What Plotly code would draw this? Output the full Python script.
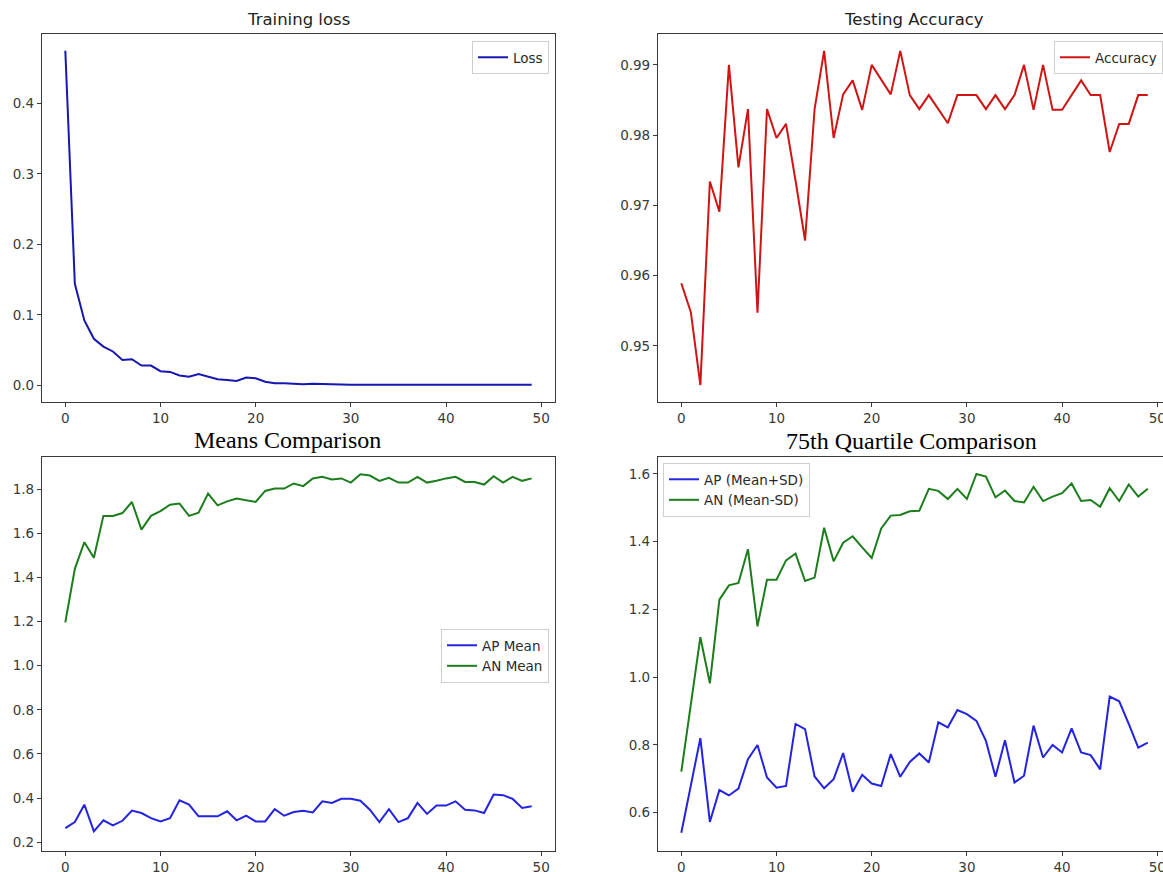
import plotly.graph_objects as go

# ---- data -------------------------------------------------------------
epochs = list(range(50))

loss = [0.475, 0.144, 0.092, 0.066, 0.055, 0.048, 0.036, 0.037, 0.028, 0.028,
        0.020, 0.019, 0.014, 0.012, 0.016, 0.012, 0.0085, 0.0076, 0.006, 0.011,
        0.010, 0.005, 0.003, 0.003, 0.002, 0.0015, 0.002, 0.0015, 0.001, 0.001,
        0.0008, 0.0008, 0.001, 0.0012, 0.001, 0.0009, 0.0008, 0.0007, 0.0007, 0.0006,
        0.0006, 0.0006, 0.0005, 0.0005, 0.0005, 0.0005, 0.0005, 0.0006, 0.0006, 0.0007]

accuracy = [0.9589, 0.9548, 0.9444, 0.9734, 0.9691, 0.9900, 0.9754, 0.9837, 0.9547, 0.9837,
            0.9796, 0.9816, 0.9735, 0.9650, 0.9837, 0.9920, 0.9796, 0.9858, 0.9878, 0.9836,
            0.9900, 0.9879, 0.9858, 0.9920, 0.9857, 0.9837, 0.9857, 0.9837, 0.9817, 0.9857,
            0.9857, 0.9857, 0.9837, 0.9857, 0.9837, 0.9857, 0.9900, 0.9836, 0.9900, 0.9836,
            0.9836, 0.9857, 0.9878, 0.9857, 0.9857, 0.9776, 0.9816, 0.9816, 0.9857, 0.9857]

ap_mean = [0.264, 0.291, 0.370, 0.249, 0.299, 0.276, 0.297, 0.343, 0.332, 0.309,
           0.294, 0.309, 0.390, 0.370, 0.317, 0.317, 0.317, 0.340, 0.299, 0.320,
           0.294, 0.294, 0.350, 0.320, 0.337, 0.342, 0.335, 0.385, 0.378, 0.397,
           0.397, 0.388, 0.347, 0.291, 0.350, 0.291, 0.309, 0.378, 0.328, 0.366,
           0.366, 0.385, 0.347, 0.344, 0.332, 0.416, 0.413, 0.396, 0.355, 0.363]

an_mean = [1.196, 1.439, 1.560, 1.489, 1.679, 1.679, 1.692, 1.742, 1.617, 1.679,
           1.701, 1.730, 1.735, 1.679, 1.694, 1.780, 1.727, 1.745, 1.758, 1.750,
           1.742, 1.792, 1.803, 1.803, 1.826, 1.814, 1.849, 1.856, 1.844, 1.849,
           1.830, 1.868, 1.862, 1.838, 1.852, 1.830, 1.830, 1.856, 1.830, 1.838,
           1.849, 1.856, 1.833, 1.833, 1.821, 1.859, 1.830, 1.856, 1.838, 1.849]

ap_upper = [0.541, 0.679, 0.820, 0.573, 0.667, 0.651, 0.671, 0.758, 0.800, 0.704,
            0.674, 0.679, 0.862, 0.847, 0.707, 0.672, 0.699, 0.776, 0.662, 0.712,
            0.686, 0.679, 0.773, 0.706, 0.750, 0.775, 0.748, 0.867, 0.852, 0.903,
            0.891, 0.871, 0.812, 0.706, 0.814, 0.689, 0.709, 0.857, 0.763, 0.800,
            0.778, 0.849, 0.778, 0.770, 0.728, 0.943, 0.929, 0.862, 0.792, 0.807]

an_lower = [0.721, 0.921, 1.118, 0.982, 1.229, 1.271, 1.278, 1.378, 1.150, 1.288,
            1.288, 1.345, 1.365, 1.284, 1.294, 1.441, 1.342, 1.397, 1.416, 1.383,
            1.352, 1.439, 1.477, 1.479, 1.490, 1.491, 1.556, 1.550, 1.526, 1.556,
            1.526, 1.600, 1.592, 1.531, 1.551, 1.520, 1.516, 1.562, 1.520, 1.533,
            1.543, 1.572, 1.520, 1.523, 1.503, 1.558, 1.520, 1.569, 1.533, 1.556]

titles = ["Training loss", "Testing Accuracy", "Means Comparison", "75th Quartile Comparison"]

# ---- layout helpers ----------------------------------------------------
W, H = 1163, 872


def fx(p):
    return p / W


def fy(p):
    return 1 - p / H


BLUE_DARK = "#1616b0"
RED = "#d01414"
BLUE = "#2323e0"
GREEN = "#1c7d1c"
AXIS = "#3a3a3a"
TICK_FONT = dict(family="DejaVu Sans", size=13.5, color="#3a3a3a")
LEG_FONT = dict(family="DejaVu Sans", size=13.5, color="#2a2a2a")


def axis(domain, rng, **kw):
    d = dict(domain=domain, range=rng, showline=True, mirror=True, linecolor=AXIS,
             linewidth=1.2, ticks="outside", ticklen=4, tickwidth=1, tickcolor=AXIS,
             tickfont=TICK_FONT, showgrid=False, zeroline=False, automargin=False)
    d.update(kw)
    return d


fig = go.Figure()

fig.add_trace(go.Scatter(x=epochs, y=loss, mode="lines", name="Loss",
                         line=dict(color=BLUE_DARK, width=2),
                         xaxis="x", yaxis="y", legend="legend"))
fig.add_trace(go.Scatter(x=epochs, y=accuracy, mode="lines", name="Accuracy",
                         line=dict(color=RED, width=2),
                         xaxis="x2", yaxis="y2", legend="legend2"))
fig.add_trace(go.Scatter(x=epochs, y=ap_mean, mode="lines", name="AP Mean",
                         line=dict(color=BLUE, width=2),
                         xaxis="x3", yaxis="y3", legend="legend3"))
fig.add_trace(go.Scatter(x=epochs, y=an_mean, mode="lines", name="AN Mean",
                         line=dict(color=GREEN, width=2),
                         xaxis="x3", yaxis="y3", legend="legend3"))
fig.add_trace(go.Scatter(x=epochs, y=ap_upper, mode="lines", name="AP (Mean+SD)",
                         line=dict(color=BLUE, width=2),
                         xaxis="x4", yaxis="y4", legend="legend4"))
fig.add_trace(go.Scatter(x=epochs, y=an_lower, mode="lines", name="AN (Mean-SD)",
                         line=dict(color=GREEN, width=2),
                         xaxis="x4", yaxis="y4", legend="legend4"))

xt = dict(tickmode="array", tickvals=[0, 10, 20, 30, 40, 50], ticklabeloverflow="allow")

legend_common = dict(font=LEG_FONT, bgcolor="rgba(255,255,255,0.85)",
                     bordercolor="#cfcfcf", borderwidth=1, itemwidth=30,
                     tracegroupgap=0)

fig.update_layout(
    width=W, height=H,
    margin=dict(l=0, r=0, t=0, b=0, autoexpand=False),
    paper_bgcolor="white", plot_bgcolor="white",
    xaxis=axis([fx(42), fx(555)], [-2.45, 51.45], anchor="y", **xt),
    yaxis=axis([fy(402), fy(34)], [-0.02375, 0.49875], anchor="x",
               tickvals=[0.0, 0.1, 0.2, 0.3, 0.4], tickformat=".1f"),
    xaxis2=axis([fx(658), 1.0], [-2.45, 50.6], anchor="y2", **xt),
    yaxis2=axis([fy(402), fy(34)], [0.9420, 0.9944], anchor="x2",
                tickvals=[0.95, 0.96, 0.97, 0.98, 0.99], tickformat=".2f"),
    xaxis3=axis([fx(42), fx(555)], [-2.45, 51.45], anchor="y3", **xt),
    yaxis3=axis([fy(851), fy(457)], [0.16, 1.946], anchor="x3",
                tickvals=[0.2, 0.4, 0.6, 0.8, 1.0, 1.2, 1.4, 1.6, 1.8], tickformat=".1f"),
    xaxis4=axis([fx(658), 1.0], [-2.45, 50.6], anchor="y4", **xt),
    yaxis4=axis([fy(851), fy(457)], [0.487, 1.650], anchor="x4",
                tickvals=[0.6, 0.8, 1.0, 1.2, 1.4, 1.6], tickformat=".1f"),
    legend=dict(x=fx(549), y=fy(41), xanchor="right", yanchor="top", **legend_common),
    legend2=dict(x=fx(1054), y=fy(41), xanchor="left", yanchor="top", **legend_common),
    legend3=dict(x=fx(549), y=fy(629), xanchor="right", yanchor="top", **legend_common),
    legend4=dict(x=fx(663), y=fy(463), xanchor="left", yanchor="top", **legend_common),
    showlegend=True,
)

title_pos = [(298, 20), (914, 20), (287, 440), (911, 441)]
title_fonts = [dict(family="DejaVu Sans", size=16.5, color="#222222"),
               dict(family="DejaVu Sans", size=16.5, color="#222222"),
               dict(family="Liberation Serif", size=24, color="black"),
               dict(family="Liberation Serif", size=24, color="black")]
for text, (tx, ty), font in zip(titles, title_pos, title_fonts):
    fig.add_annotation(text=text, x=fx(tx), y=fy(ty), xref="paper", yref="paper",
                       xanchor="center", yanchor="middle", showarrow=False, font=font)

fig.write_html("out.html")
